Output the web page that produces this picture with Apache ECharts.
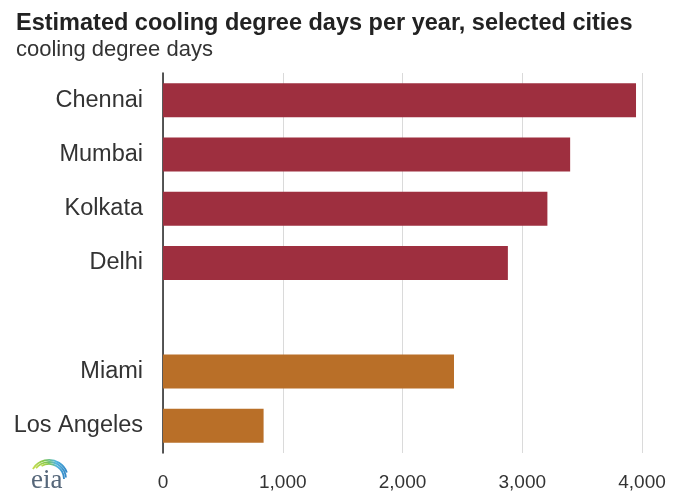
<!DOCTYPE html>
<html lang="en">
<head>
    <meta charset="UTF-8">
    <title>Estimated cooling degree days per year, selected cities</title>
    <script src="https://cdn.jsdelivr.net/npm/echarts@6/dist/echarts.min.js"></script>
    <style>
        html, body { margin: 0; padding: 0; background: #fff; }
    </style>
</head>
<body>
<div id="main" style="width: 688px;height:493px;"></div>
<script type="text/javascript">
    // data
    var cities = ['Chennai', 'Mumbai', 'Kolkata', 'Delhi', '', 'Miami', 'Los Angeles'];
    var cdd = [3950, 3400, 3210, 2880, null, 2430, 840];
    var region = ['india', 'india', 'india', 'india', '', 'us', 'us'];
    var xTicks = [0, 1000, 2000, 3000, 4000];

    var colors = { india: '#9e2f3f', us: '#b96f28' };
    var sans = "'Liberation Sans', Arial, sans-serif";

    var barData = cdd.map(function (v, i) {
        return { value: v, itemStyle: { color: colors[region[i]] || '#999' } };
    });

    var myChart = echarts.init(document.getElementById('main'));

    // eia logo: a rainbow swoosh over the letters
    var swoosh = {
        type: 'linear', x: 0, y: 0, x2: 1, y2: 0,
        colorStops: [
            { offset: 0, color: '#d6e24e' },
            { offset: 0.35, color: '#80c54b' },
            { offset: 0.65, color: '#52b6df' },
            { offset: 1, color: '#2b7cc0' }
        ]
    };
    var arcs = [
        { r: 19, a0: -148, a1: -20 },
        { r: 17, a0: -140, a1: -5 },
        { r: 15, a0: -120, a1: 0 }
    ];
    var logo = arcs.map(function (a) {
        return {
            type: 'arc',
            shape: { cx: 49, cy: 479, r: a.r, startAngle: a.a0 * Math.PI / 180, endAngle: a.a1 * Math.PI / 180 },
            style: { stroke: swoosh, lineWidth: 1.8, fill: null }
        };
    });
    logo.push({
        type: 'text',
        left: 31,
        top: 467,
        style: {
            text: 'eia',
            font: "27px 'Liberation Serif', 'DejaVu Serif', serif",
            fill: '#56677a'
        }
    });

    var option = {
        animation: false,
        backgroundColor: '#fff',
        title: {
            text: 'Estimated cooling degree days per year, selected cities',
            subtext: 'cooling degree days',
            left: 11,
            top: 7,
            itemGap: 3,
            textStyle: { fontFamily: sans, fontSize: 23.5, fontWeight: 'bold', color: '#222' },
            subtextStyle: { fontFamily: sans, fontSize: 22, color: '#333' }
        },
        grid: { left: 163, right: 46, top: 73, bottom: 40 },
        xAxis: {
            type: 'value',
            min: xTicks[0],
            max: xTicks[xTicks.length - 1],
            interval: 1000,
            axisLine: { show: false },
            axisTick: { show: false },
            splitLine: { lineStyle: { color: '#dadada', width: 1 } },
            axisLabel: {
                margin: 20,
                fontFamily: sans,
                fontSize: 19,
                color: '#333',
                formatter: function (v) { return v.toLocaleString('en-US'); }
            }
        },
        yAxis: {
            type: 'category',
            inverse: true,
            data: cities,
            axisLine: { lineStyle: { color: '#222', width: 1.5 } },
            axisTick: { show: false },
            axisLabel: {
                margin: 20,
                fontFamily: sans,
                fontSize: 23.5,
                color: '#333'
            }
        },
        series: [{
            type: 'bar',
            barWidth: 34,
            data: barData
        }],
        graphic: logo
    };

    myChart.setOption(option);
</script>
</body>
</html>
